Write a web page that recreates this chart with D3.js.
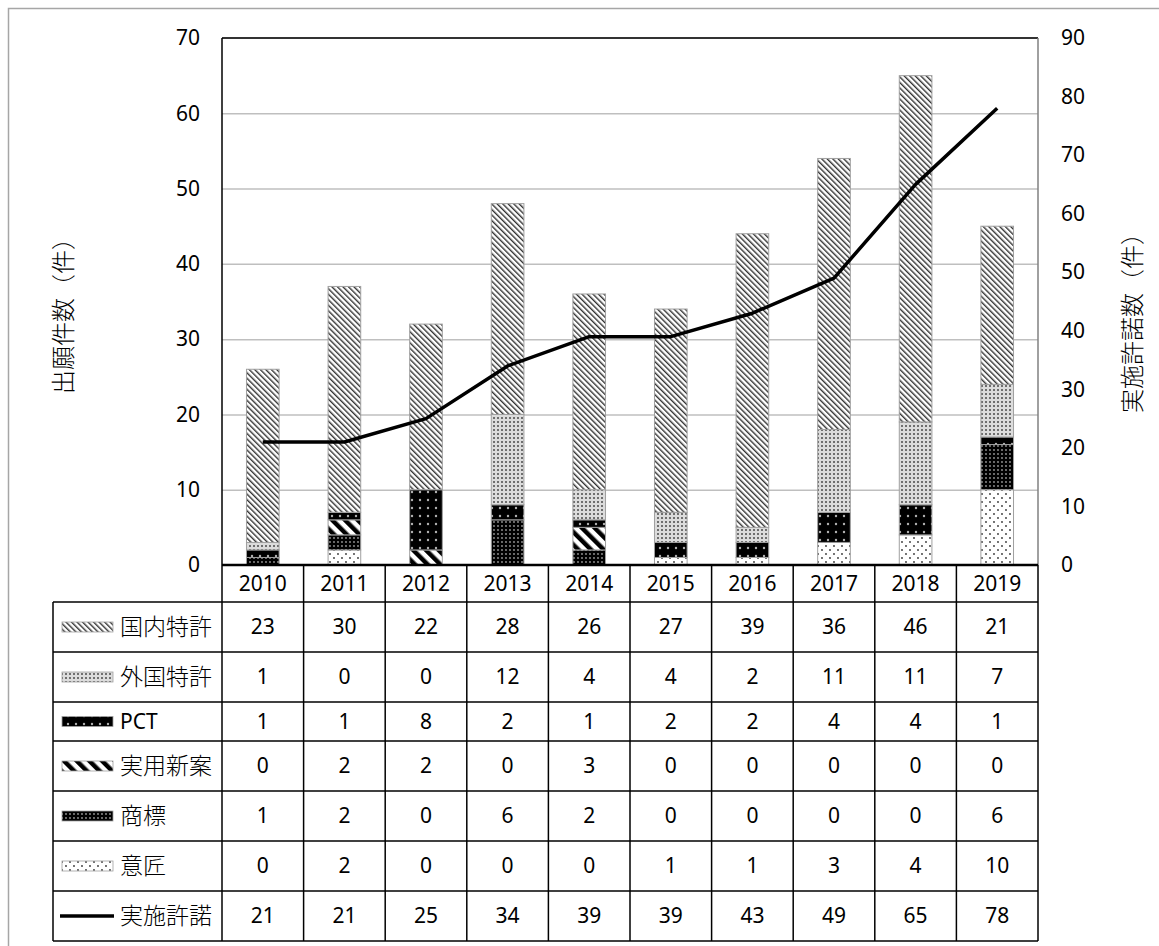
<!DOCTYPE html>
<html><head><meta charset="utf-8">
<script src="https://cdn.jsdelivr.net/npm/d3@7"></script>
<style>
body{margin:0;background:#fff}
svg text{font-family:"Noto Sans","Noto Sans CJK JP",sans-serif;fill:#000}
</style>
</head><body>
<svg id="chart" width="1159" height="946"></svg>
<script>
// ---- data ----
const years = [2010, 2011, 2012, 2013, 2014, 2015, 2016, 2017, 2018, 2019];
const domestic  = [23, 30, 22, 28, 26, 27, 39, 36, 46, 21]; // 国内特許
const foreign   = [1, 0, 0, 12, 4, 4, 2, 11, 11, 7];        // 外国特許
const pct       = [1, 1, 8, 2, 1, 2, 2, 4, 4, 1];           // PCT
const utility   = [0, 2, 2, 0, 3, 0, 0, 0, 0, 0];           // 実用新案
const trademark = [1, 2, 0, 6, 2, 0, 0, 0, 0, 6];           // 商標
const design    = [0, 2, 0, 0, 0, 1, 1, 3, 4, 10];          // 意匠
const licenses  = [21, 21, 25, 34, 39, 39, 43, 49, 65, 78]; // 実施許諾
const leftTicks  = [0, 10, 20, 30, 40, 50, 60, 70];
const rightTicks = [0, 10, 20, 30, 40, 50, 60, 70, 80, 90];
const leftTitle  = "出願件数（件）";
const rightTitle = "実施許諾数（件）";

// ---- layout ----
const plot = {left: 222, right: 1038, top: 38, bottom: 565};
const tableLeft = 53;
const rowEdges = [565, 602, 652, 702, 741, 791, 841, 891, 941];
const numFont = 21, jpFont = 23, titleFont = 24;

const svg = d3.select("#chart");
const defs = svg.append("defs");

// fill patterns
function stripes(id, period, width, color) {
  const p = defs.append("pattern").attr("id", id)
    .attr("patternUnits", "userSpaceOnUse")
    .attr("width", period).attr("height", period)
    .attr("patternTransform", "rotate(-45)");
  p.append("rect").attr("width", period).attr("height", period).attr("fill", "#fff");
  p.append("rect").attr("width", width).attr("height", period).attr("fill", color);
}
function dots(id, w, h, bg, color, r, pts) {
  const p = defs.append("pattern").attr("id", id)
    .attr("patternUnits", "userSpaceOnUse")
    .attr("width", w).attr("height", h);
  p.append("rect").attr("width", w).attr("height", h).attr("fill", bg);
  pts.forEach(([cx, cy]) => p.append("circle").attr("cx", cx).attr("cy", cy).attr("r", r).attr("fill", color));
}
stripes("pDomestic", 3.9, 1.4, "#333");
dots("pForeign", 4, 4, "#dcdcdc", "#4a4a4a", 1, [[2, 2]]);
dots("pPct", 8, 8, "#000", "#b0b0b0", 1.2, [[4, 4]]);
stripes("pUtility", 9, 4.5, "#000");
dots("pTrademark", 4, 4, "#000", "#9a9a9a", 0.9, [[2, 2]]);
dots("pDesign", 8, 8, "#fff", "#333", 0.9, [[2, 2], [6, 6]]);

const series = [
  {key: "design",    name: "意匠",     values: design,    fill: "url(#pDesign)"},
  {key: "trademark", name: "商標",     values: trademark, fill: "url(#pTrademark)"},
  {key: "utility",   name: "実用新案", values: utility,   fill: "url(#pUtility)"},
  {key: "pct",       name: "PCT",      values: pct,       fill: "url(#pPct)"},
  {key: "foreign",   name: "外国特許", values: foreign,   fill: "url(#pForeign)"},
  {key: "domestic",  name: "国内特許", values: domestic,  fill: "url(#pDomestic)"}
];

// outer frame
svg.append("rect").attr("x", 8.5).attr("y", 8.5).attr("width", 1160).attr("height", 950)
  .attr("fill", "none").attr("stroke", "#a6a6a6").attr("stroke-width", 1.5);

// ---- scales ----
const x = d3.scaleBand().domain(years).range([plot.left, plot.right]).paddingInner(0.6).paddingOuter(0.3);
const yL = d3.scaleLinear().domain([0, 70]).range([plot.bottom, plot.top]);
const yR = d3.scaleLinear().domain([0, 90]).range([plot.bottom, plot.top]);

// gridlines
svg.append("g").attr("transform", `translate(${plot.left},0)`)
  .call(d3.axisLeft(yL).tickValues(leftTicks.slice(1, -1)).tickSize(-(plot.right - plot.left)).tickFormat(""))
  .call(g => g.select(".domain").remove())
  .call(g => g.selectAll("line").attr("stroke", "#bfbfbf").attr("stroke-width", 1.5));

// left axis labels
svg.append("g").attr("transform", `translate(${plot.left},0)`)
  .call(d3.axisLeft(yL).tickValues(leftTicks).tickSize(0).tickPadding(22))
  .call(g => g.select(".domain").remove())
  .call(g => g.selectAll("text").attr("font-size", numFont).style("font-family", "'Noto Sans',sans-serif"));

// right axis labels
svg.append("g").attr("transform", `translate(${plot.right},0)`)
  .call(d3.axisRight(yR).tickValues(rightTicks).tickSize(0).tickPadding(23))
  .call(g => g.select(".domain").remove())
  .call(g => g.selectAll("text").attr("font-size", numFont).style("font-family", "'Noto Sans',sans-serif"));

// stacked bars
const table = years.map((yr, i) => {
  const o = {year: yr};
  series.forEach(s => o[s.key] = s.values[i]);
  return o;
});
const stack = d3.stack().keys(series.map(s => s.key))(table);
svg.append("g").selectAll("g").data(stack).join("g")
  .attr("fill", (d, i) => series[i].fill)
  .selectAll("rect").data(d => d.filter(v => v[1] - v[0] > 0)).join("rect")
  .attr("x", d => x(d.data.year))
  .attr("width", x.bandwidth())
  .attr("y", d => yL(d[1]))
  .attr("height", d => yL(d[0]) - yL(d[1]))
  .attr("stroke", "#a0a0a0").attr("stroke-width", 1);

// plot border
svg.append("line").attr("x1", plot.left).attr("x2", plot.right).attr("y1", plot.top).attr("y2", plot.top)
  .attr("stroke", "#333").attr("stroke-width", 2);
svg.append("line").attr("x1", plot.left).attr("x2", plot.left).attr("y1", plot.top).attr("y2", plot.bottom)
  .attr("stroke", "#000").attr("stroke-width", 1.5);
svg.append("line").attr("x1", plot.right).attr("x2", plot.right).attr("y1", plot.top).attr("y2", plot.bottom)
  .attr("stroke", "#808080").attr("stroke-width", 1.5);

// license line
const cx = yr => x(yr) + x.bandwidth() / 2;
svg.append("path")
  .datum(years.map((yr, i) => [cx(yr), yR(licenses[i])]))
  .attr("d", d3.line())
  .attr("fill", "none").attr("stroke", "#000").attr("stroke-width", 3.5)
  .attr("stroke-linejoin", "round");

// axis titles
svg.append("text").attr("transform", `translate(72,310) rotate(-90)`)
  .attr("text-anchor", "middle").attr("font-size", titleFont).attr("font-weight", 300).text(leftTitle);
svg.append("text").attr("transform", `translate(1141,317) rotate(-90)`)
  .attr("text-anchor", "middle").attr("font-size", titleFont).attr("font-weight", 300).text(rightTitle);

// ---- data table ----
const tg = svg.append("g");
const lineStyle = sel => sel.attr("stroke", "#000").attr("stroke-width", 1.5);
const colEdges = years.map(yr => x(yr) - x.step() * x.paddingInner() / 2);
colEdges.push(plot.right);

// header row (years)
tg.selectAll(".yr").data(years).join("text")
  .attr("x", cx).attr("y", (rowEdges[0] + rowEdges[1]) / 2)
  .attr("dy", "0.35em").attr("text-anchor", "middle").attr("font-size", numFont).text(d => d);

const rows = [
  {name: "国内特許", values: domestic,  fill: "url(#pDomestic)"},
  {name: "外国特許", values: foreign,   fill: "url(#pForeign)"},
  {name: "PCT",      values: pct,       fill: "url(#pPct)"},
  {name: "実用新案", values: utility,   fill: "url(#pUtility)"},
  {name: "商標",     values: trademark, fill: "url(#pTrademark)"},
  {name: "意匠",     values: design,    fill: "url(#pDesign)"},
  {name: "実施許諾", values: licenses,  line: true}
];

rows.forEach((r, ri) => {
  const mid = (rowEdges[ri + 1] + rowEdges[ri + 2]) / 2;
  const g = tg.append("g");
  if (r.line) {
    g.append("line").attr("x1", 60).attr("x2", 114).attr("y1", mid).attr("y2", mid)
      .attr("stroke", "#000").attr("stroke-width", 3.5);
  } else {
    g.append("rect").attr("x", 62).attr("y", mid - 5).attr("width", 51).attr("height", 10)
      .attr("fill", r.fill).attr("stroke", "#a0a0a0").attr("stroke-width", 0.8);
  }
  g.append("text").attr("x", 120).attr("y", mid).attr("dy", "0.35em")
    .attr("font-size", r.name === "PCT" ? numFont : jpFont).attr("font-weight", r.name === "PCT" ? 400 : 300)
    .text(r.name);
  g.selectAll(".v").data(r.values).join("text")
    .attr("x", (d, i) => cx(years[i])).attr("y", mid).attr("dy", "0.35em")
    .attr("text-anchor", "middle").attr("font-size", numFont).text(d => d);
});

// table grid lines
colEdges.forEach(cxp => tg.append("line").attr("x1", cxp).attr("x2", cxp)
  .attr("y1", rowEdges[0]).attr("y2", rowEdges[rowEdges.length - 1]).call(lineStyle));
tg.append("line").attr("x1", tableLeft).attr("x2", tableLeft)
  .attr("y1", rowEdges[1]).attr("y2", rowEdges[rowEdges.length - 1]).call(lineStyle);
rowEdges.forEach((ry, i) => {
  if (i === 0) return;
  tg.append("line").attr("x1", tableLeft).attr("x2", plot.right).attr("y1", ry).attr("y2", ry).call(lineStyle);
});
tg.append("line").attr("x1", plot.left).attr("x2", plot.right).attr("y1", rowEdges[0]).attr("y2", rowEdges[0])
  .attr("stroke", "#000").attr("stroke-width", 2.5);
</script>
</body></html>
